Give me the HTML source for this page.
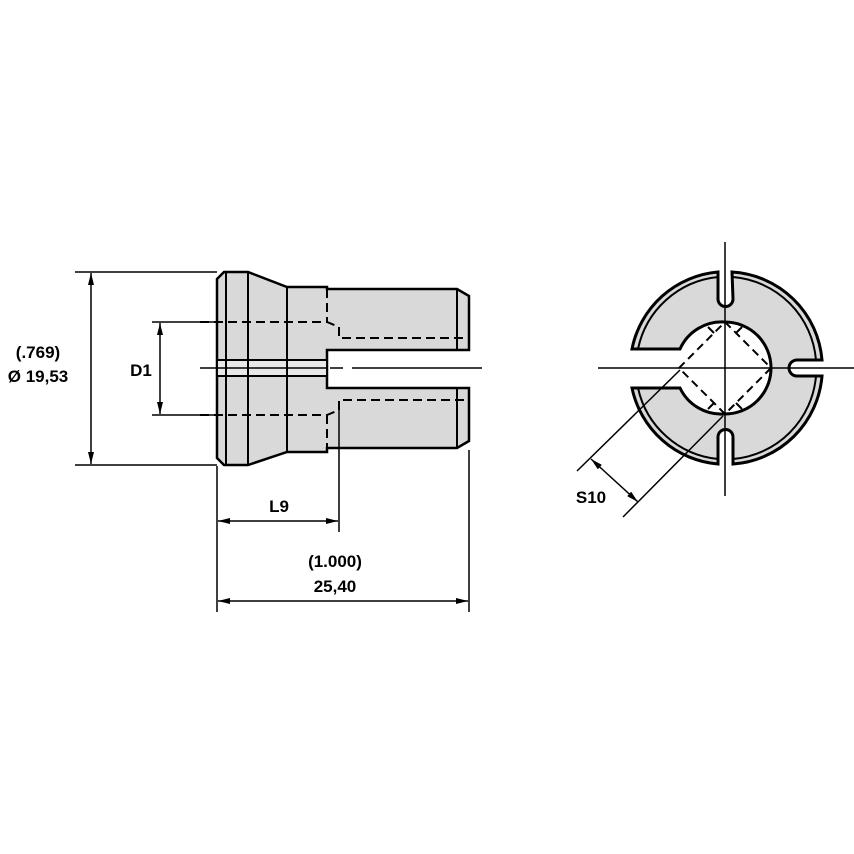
<!DOCTYPE html>
<html><head><style>html,body{margin:0;padding:0;background:#fff}svg{display:block}</style></head><body>
<svg width="854" height="854" viewBox="0 0 854 854" xmlns="http://www.w3.org/2000/svg" font-family="Liberation Sans, Arial, sans-serif">
<defs>
<marker id="a" viewBox="0 0 12 6" refX="12" refY="3" markerWidth="12" markerHeight="6" orient="auto-start-reverse" markerUnits="userSpaceOnUse"><path d="M0,0L12,3L0,6z" fill="#000"/></marker>
</defs>
<g stroke="#000" fill="none">
<path d="M224,272 L248,272 L287,287 L327,287 L327,289 L457,289 L469,296 L469,350 L327,350 L327,388 L469,388 L469,441 L457,448 L327,448 L327,452 L287,452 L248,465 L224,465 L217,458 L217,279 Z" fill="#d9d9d9" stroke-width="2.5"/>
<rect x="217" y="360" width="110" height="16" fill="#e8e8e8" stroke-width="2"/>
<g stroke-width="2">
<line x1="226" y1="273" x2="226" y2="464"/>
<line x1="248" y1="273" x2="248" y2="464"/>
<line x1="287" y1="288" x2="287" y2="451"/>
<line x1="457" y1="290" x2="457" y2="349"/>
<line x1="457" y1="389" x2="457" y2="447"/>
</g>
<g stroke-width="2" stroke-dasharray="9,5">
<path d="M200,322 L327,322 L339,327 L339,338 L469,338"/>
<path d="M200,415 L327,415 L339,410 L339,400 L469,400"/>
<line x1="327" y1="289" x2="327" y2="322"/>
<line x1="327" y1="415" x2="327" y2="448"/>
</g>
<g stroke-width="1.5">
<path d="M200,368 L327,368"/>
<path d="M330,368 L343,368 M352,368 L482,368"/>
</g>
<g stroke-width="1.5">
<line x1="75" y1="272" x2="217" y2="272"/>
<line x1="75" y1="465" x2="217" y2="465"/>
<line x1="152" y1="322" x2="215" y2="322"/>
<line x1="152" y1="415" x2="215" y2="415"/>
<line x1="217" y1="466" x2="217" y2="612"/>
<line x1="339" y1="410" x2="339" y2="532"/>
<line x1="469" y1="450" x2="469" y2="612"/>
<line x1="91" y1="273" x2="91" y2="464" marker-start="url(#a)" marker-end="url(#a)"/>
<line x1="160" y1="323" x2="160" y2="414" marker-start="url(#a)" marker-end="url(#a)"/>
<line x1="218" y1="521" x2="338" y2="521" marker-start="url(#a)" marker-end="url(#a)"/>
<line x1="218" y1="601" x2="468" y2="601" marker-start="url(#a)" marker-end="url(#a)"/>
</g>
<path d="M732,272 A96,96 0 0 1 822,360 L797,360 A8,8 0 0 0 797,376 L822,376 A96,96 0 0 1 733,464 L733,437 A7.5,7.5 0 0 0 718,437 L718,464 A96,96 0 0 1 632,388 L680,388 A46,46 0 0 0 725,414 A46,46 0 0 0 725,322 A46,46 0 0 0 680,349 L632,349 A96,96 0 0 1 718,272 L718,299 A7.5,7.5 0 0 0 733,299 Z" fill="#d9d9d9" stroke-width="3"/>
<g stroke-width="2">
<path d="M733,277 A91,91 0 0 1 816,360"/>
<path d="M816,376 A91,91 0 0 1 733,459"/>
<path d="M718,459 A91,91 0 0 1 638,388"/>
<path d="M638,349 A91,91 0 0 1 718,277"/>
</g>
<path d="M725,322 L771,368 L725,414 L679,368 Z" stroke-width="2" stroke-dasharray="8,5"/>
<g stroke-width="2">
<path d="M708,327 L714,333 M742,327 L736,333 M708,409 L714,403 M742,409 L736,403"/>
</g>
<g stroke-width="1.5">
<line x1="598" y1="368" x2="854" y2="368"/>
<line x1="725" y1="242" x2="725" y2="496"/>
<line x1="577" y1="471" x2="680" y2="370"/>
<line x1="623" y1="517" x2="723" y2="416"/>
<line x1="591" y1="459" x2="638" y2="502" marker-start="url(#a)" marker-end="url(#a)"/>
</g>
</g>
<g font-size="17" font-weight="bold" fill="#000" text-anchor="middle">
<text x="38" y="358">(.769)</text>
<text x="38" y="382">Ø 19,53</text>
<text x="141" y="376">D1</text>
<text x="279" y="512">L9</text>
<text x="335" y="567">(1.000)</text>
<text x="335" y="592">25,40</text>
<text x="591" y="503">S10</text>
</g>
</svg>
</body></html>
